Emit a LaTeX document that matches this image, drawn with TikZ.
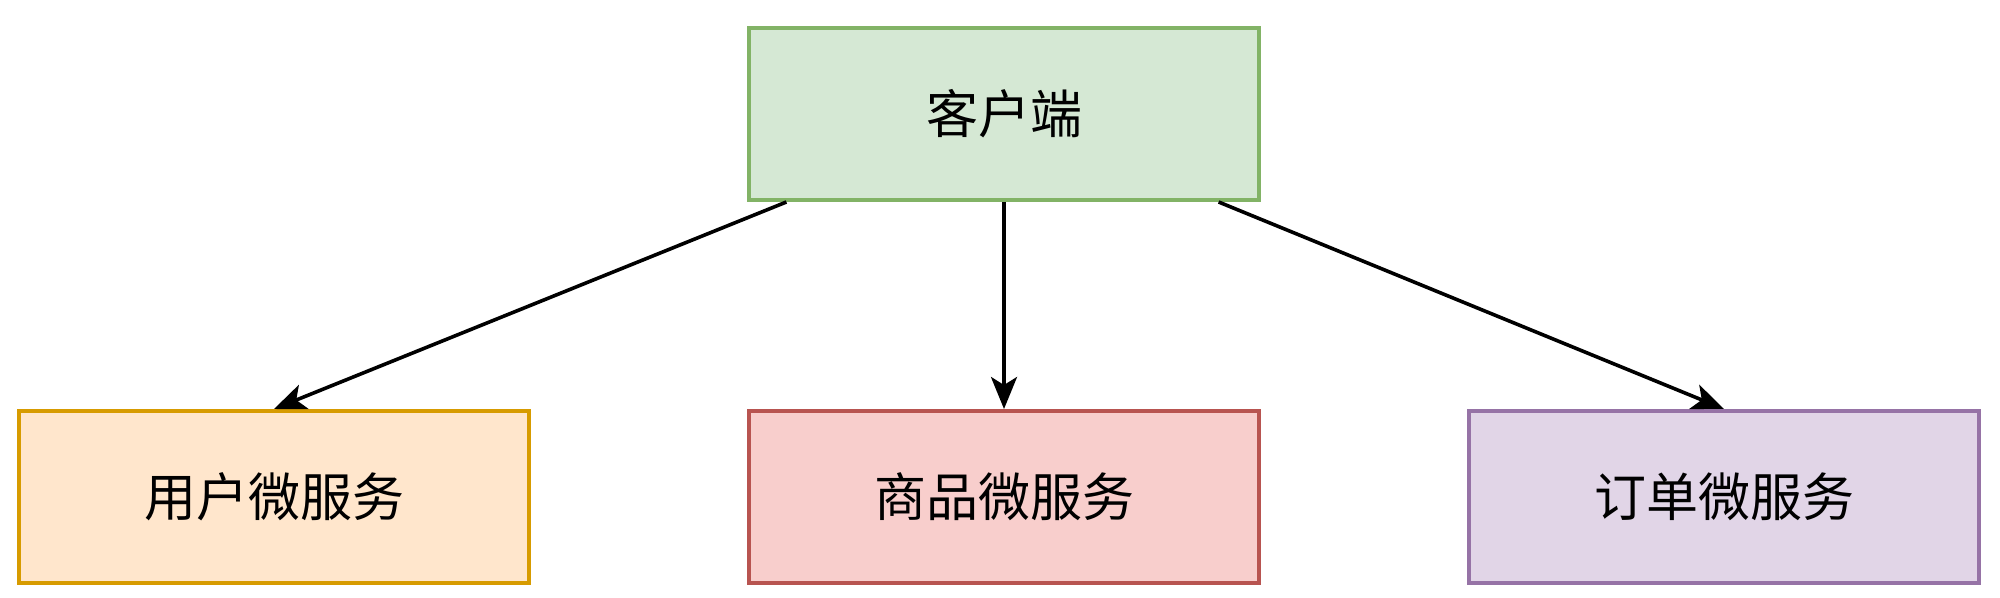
\documentclass[tikz,border=0pt]{standalone}
\usepackage{fontspec}
\setmainfont{Noto Sans CJK SC}
\usetikzlibrary{arrows.meta}
\definecolor{greenfill}{HTML}{D5E8D4}
\definecolor{greenline}{HTML}{82B366}
\definecolor{orangefill}{HTML}{FFE6CC}
\definecolor{orangeline}{HTML}{D79B00}
\definecolor{redfill}{HTML}{F8CECC}
\definecolor{redline}{HTML}{B85450}
\definecolor{purplefill}{HTML}{E1D5E7}
\definecolor{purpleline}{HTML}{9673A6}
\tikzset{
  box/.style={draw,line width=2pt,minimum width=255pt,minimum height=86pt,
    font=\fontsize{26}{31}\selectfont},
  link/.style={-{Stealth[length=16pt,width=13pt,inset=4pt]},line width=1.8pt,black}
}
\begin{document}
\begin{tikzpicture}[x=0.5pt,y=-0.5pt]
\useasboundingbox (0,0) rectangle (2000,598);
\node[box,fill=greenfill,draw=greenline]   (client) at (1004,114) {客户端};
\node[box,fill=orangefill,draw=orangeline] (user)   at (274,497)  {用户微服务};
\node[box,fill=redfill,draw=redline]       (goods)  at (1004,497) {商品微服务};
\node[box,fill=purplefill,draw=purpleline] (order)  at (1724,497) {订单微服务};
\draw[link] (client) -- (user.north);
\draw[link] (client) -- (goods.north);
\draw[link] (client) -- (order.north);
\end{tikzpicture}
\end{document}
